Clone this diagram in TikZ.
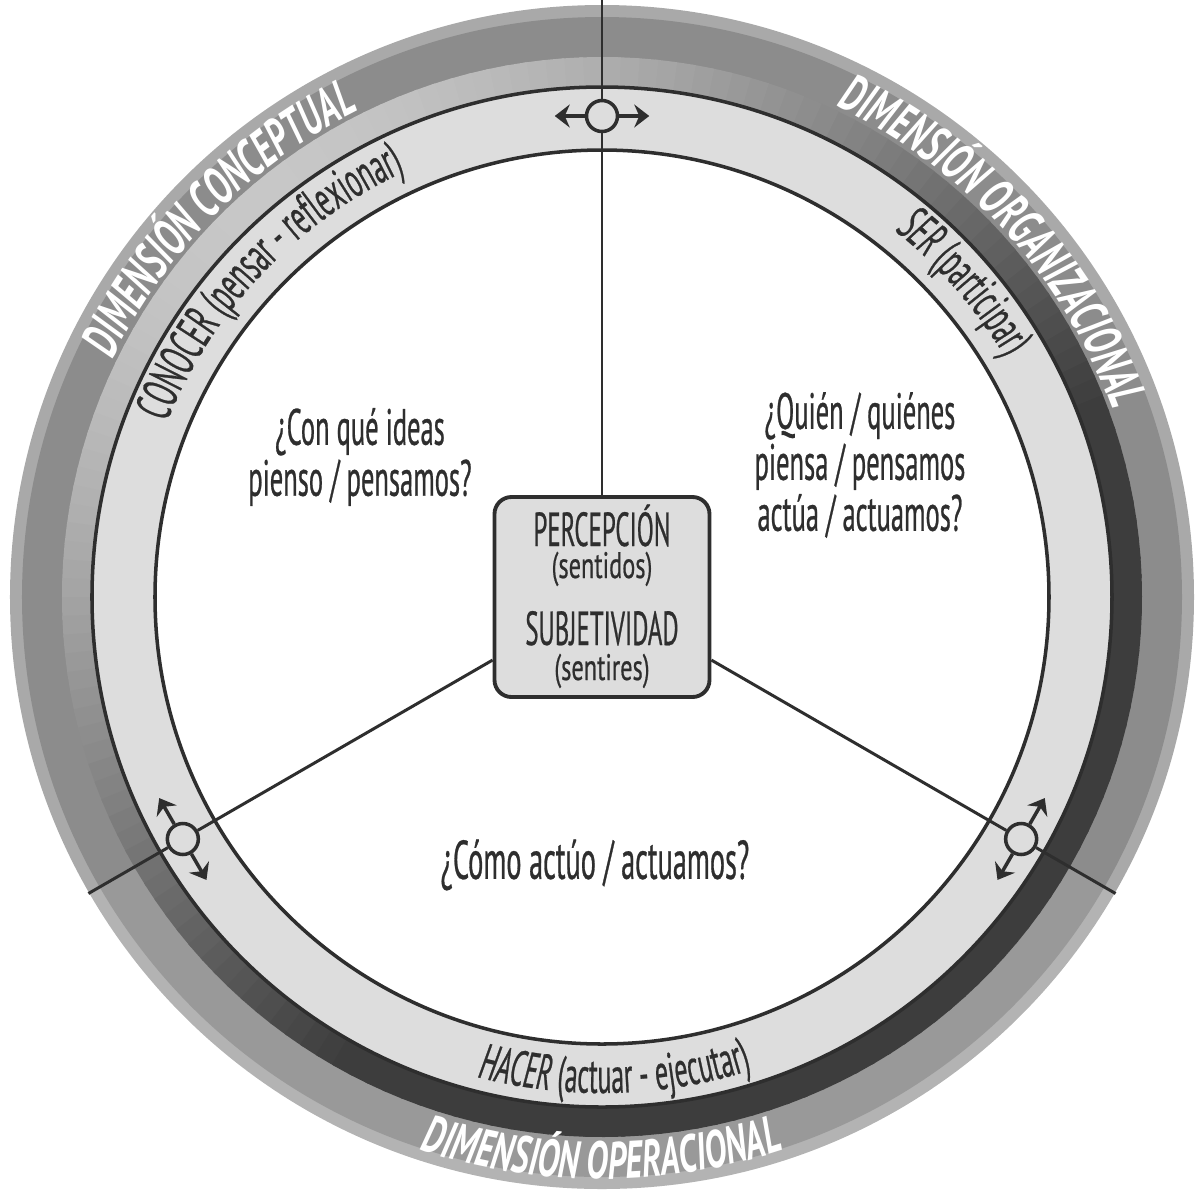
\documentclass[tikz,border=0pt]{standalone}
\usepackage{fontspec}
\setmainfont{PT Sans}[FakeStretch=0.52,FakeBold=0.5]
\newfontfamily\dimfont{PT Sans}[FakeStretch=0.63]
\newfontfamily\subfont{PT Sans}[FakeStretch=0.66,FakeBold=0.5]
\usetikzlibrary{decorations.text,arrows.meta}

\definecolor{ringgray}{HTML}{DDDDDD}
\definecolor{outergray}{HTML}{8C8C8C}
\definecolor{rimgray}{HTML}{A9A9A9}
\definecolor{inkgray}{HTML}{2E2E2E}

\newcommand\dimstyle{\dimfont\bfseries\itshape\fontsize{15}{15}\selectfont\color{white}}
\newcommand\ringstyle{\normalfont\fontsize{14.3}{15}\selectfont\color{inkgray}}

\begin{document}
\begin{tikzpicture}[
    hub/.style={circle,draw=inkgray,fill=ringgray,line width=1pt,minimum size=0.31cm,inner sep=0pt},
    spoke/.style={draw=inkgray,line width=0.85pt},
    move/.style={-{Stealth[length=1.5mm,width=2.3mm,inset=0.5mm]},draw=inkgray,line width=1pt},
    question/.style={text=inkgray,align=center,font=\fontsize{14.5}{14.5}\selectfont},
    centrebox/.style={draw=inkgray,fill=ringgray,line width=1.1pt,rounded corners=0.17cm,minimum width=2.15cm,minimum height=2.0cm},
    boxtitle/.style={text=inkgray,anchor=base,inner sep=0pt,font=\fontsize{13.6}{14}\selectfont},
    boxsub/.style={text=inkgray,anchor=base,inner sep=0pt,font=\subfont\fontsize{10.5}{11}\selectfont},
    arclabel/.style={decorate,decoration={text along path,text align=center,text={#1}}},
]
    \useasboundingbox (-6.02,-5.94) rectangle (5.93,5.97);

    % Outer ring
    \fill[rimgray] (0,0) circle (5.92);
    \fill[outergray] (0,0) circle (5.80);
    \fill[white,opacity=0.12] (0,0) -- (210:5.92) arc[start angle=210,end angle=330,radius=5.92] -- cycle;

    % Shaded band
    \foreach \a in {0,2,...,358}{
        \pgfmathsetmacro\shade{22+54*min(1,0.75*(1+cos(\a+50)))}
        \fill[black!\shade] (\a:5.09) arc[start angle=\a,end angle=\a+2.4,radius=5.09]
            -- (\a+2.4:5.40) arc[start angle=\a+2.4,end angle=\a,radius=5.40] -- cycle;
    }

    % Light ring and inner disk
    \filldraw[fill=ringgray,draw=inkgray,line width=1pt] (0,0) circle (5.10);
    \filldraw[fill=white,draw=inkgray,line width=1pt] (0,0) circle (4.47);

    % Centre box
    \node[centrebox] (centre) at (0,0) {};
    \node[boxtitle] (perc) at ([yshift=0.51cm]centre.center) {PERCEPCIÓN};
    \node[boxsub] (sentidos) at ([yshift=0.19cm]centre.center) {(sentidos)};
    \node[boxtitle] (subj) at ([yshift=-0.48cm]centre.center) {SUBJETIVIDAD};
    \node[boxsub] (sentires) at ([yshift=-0.83cm]centre.center) {(sentires)};

    % Hubs on the ring
    \node[hub] (hubT) at (90:4.81) {};
    \node[hub] (hubL) at (210:4.84) {};
    \node[hub] (hubR) at (330:4.84) {};
    \coordinate (edgeT) at (90:5.97);
    \coordinate (edgeL) at (210:5.93);
    \coordinate (edgeR) at (330:5.93);

    % Spokes
    \draw[spoke] (centre) -- (hubT) -- (edgeT);
    \draw[spoke] (centre) -- (hubL) -- (edgeL);
    \draw[spoke] (centre) -- (hubR) -- (edgeR);

    % Arrows
    \draw[move] (hubT.180) -- ++(180:0.3);
    \draw[move] (hubT.0) -- ++(0:0.3);
    \draw[move] (hubL.120) -- ++(120:0.3);
    \draw[move] (hubL.300) -- ++(300:0.3);
    \draw[move] (hubR.60) -- ++(60:0.3);
    \draw[move] (hubR.240) -- ++(240:0.3);

    % Questions
    \node[question] (conocerq) at (-2.42,1.40) {¿Con qué ideas\\pienso / pensamos?};
    \node[question] (serq) at (2.58,1.32) {¿Quién / quiénes\\piensa / pensamos\\actúa / actuamos?};
    \node[question,font=\fontsize{15.5}{15.5}\selectfont] (hacerq) at (-0.07,-2.68) {¿Cómo actúo / actuamos?};

    % Ring labels
    \path[arclabel={|\ringstyle|CONOCER (pensar - reflexionar)}] (176.5:4.69) arc[start angle=176.5,end angle=96.5,radius=4.69];
    \path[arclabel={|\ringstyle\itshape|SER|\ringstyle| (participar)}] (81:4.69) arc[start angle=81,end angle=1,radius=4.69];
    \path[arclabel={|\ringstyle\itshape|HACER|\ringstyle| (actuar - ejecutar)}] (231.5:4.96) arc[start angle=231.5,end angle=311.5,radius=4.96];

    % Dimension labels
    \path[arclabel={|\dimstyle|DIMENSIÓN CONCEPTUAL}] (175.3:5.44) arc[start angle=175.3,end angle=95.3,radius=5.44];
    \path[arclabel={|\dimstyle|DIMENSIÓN ORGANIZACIONAL}] (82.3:5.44) arc[start angle=82.3,end angle=2.3,radius=5.44];
    \path[arclabel={|\dimstyle|DIMENSIÓN OPERACIONAL}] (230:5.82) arc[start angle=230,end angle=310,radius=5.82];
\end{tikzpicture}
\end{document}
